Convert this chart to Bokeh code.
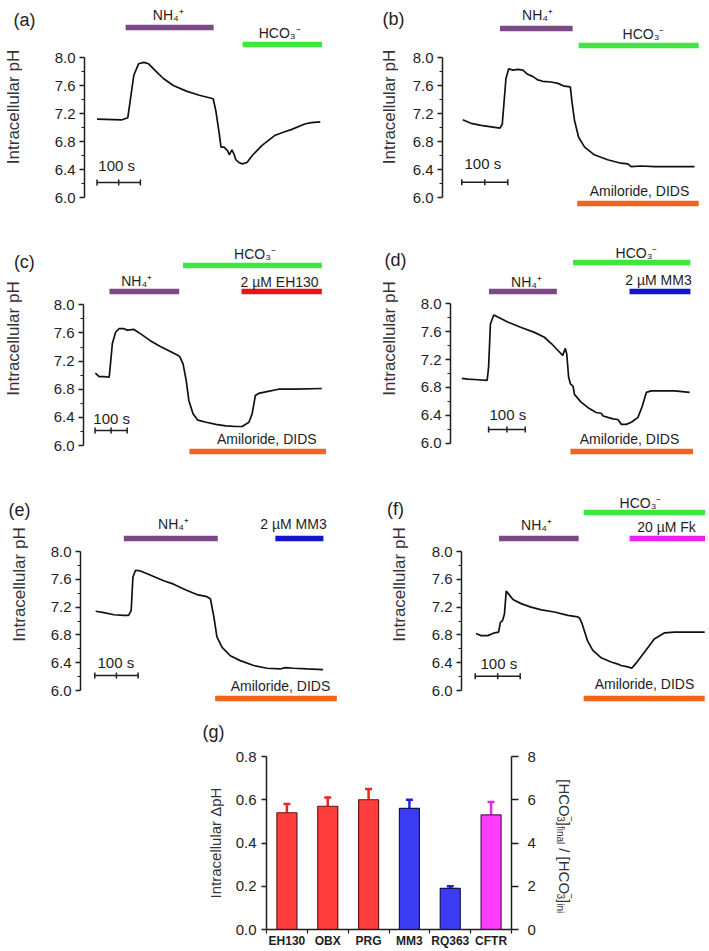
import math
from bokeh.plotting import figure
from bokeh.layouts import column, row
from bokeh.models import Range1d, LinearAxis, FixedTicker, NumeralTickFormatter
from bokeh.embed import file_html
from bokeh.resources import INLINE
from bokeh.core.properties import value

FONT = "Liberation Sans"
INK = "#1e1e1e"

# ---------------- data (time in s, intracellular pH) ----------------
a_time = [0, 58, 71, 85, 96, 108, 119, 138, 153, 176, 206, 236, 268, 274, 282, 286, 293, 301, 305, 311,
          316, 320, 327, 335, 346, 358, 380, 411, 433, 448, 479, 494, 515]
a_ph = [7.12, 7.11, 7.14, 7.75, 7.91, 7.93, 7.91, 7.79, 7.70, 7.60, 7.52, 7.46, 7.41, 7.24, 6.91, 6.72, 6.72,
        6.67, 6.61, 6.68, 6.62, 6.54, 6.50, 6.48, 6.50, 6.60, 6.74, 6.89, 6.94, 6.97, 7.05, 7.07, 7.08]
a_nh4 = [66, 269]
a_hco3 = [336, 519]

b_time = [2, 20, 42, 64, 83, 88, 96, 102, 111, 122, 133, 143, 154, 165, 176, 194, 209, 223, 236, 239,
          245, 254, 267, 288, 317, 346, 361, 368, 390, 419, 441, 462, 506]
b_ph = [7.11, 7.06, 7.03, 7.01, 6.99, 7.05, 7.70, 7.84, 7.82, 7.83, 7.82, 7.76, 7.73, 7.68, 7.66, 7.65, 7.63,
        7.59, 7.58, 7.39, 7.10, 6.86, 6.72, 6.61, 6.54, 6.49, 6.48, 6.44, 6.45, 6.44, 6.44, 6.44, 6.44]
b_nh4 = [83, 241]
b_hco3 = [254, 515]
b_amil = [251, 515]

c_time = [1, 13, 29, 44, 47, 54, 64, 75, 90, 100, 121, 141, 172, 202, 233, 259, 264, 274, 284, 292,
          305, 320, 346, 376, 407, 438, 458, 479, 489, 499, 509, 539, 571, 622, 706]
c_ph = [7.03, 6.98, 6.98, 6.97, 7.11, 7.45, 7.61, 7.66, 7.66, 7.64, 7.65, 7.59, 7.49, 7.41, 7.34, 7.28, 7.26,
        7.16, 6.92, 6.64, 6.45, 6.36, 6.33, 6.30, 6.28, 6.27, 6.27, 6.33, 6.45, 6.71, 6.74, 6.77, 6.80, 6.80, 6.81]
c_hco3 = [274, 706]
c_nh4 = [45, 262]
c_eh130 = [456, 706]
c_amil = [294, 719]

d_time = [0, 16, 44, 69, 73, 78, 87, 98, 125, 162, 198, 225, 244, 262, 275, 282, 286, 291, 296, 303,
          307, 325, 344, 366, 380, 385, 398, 412, 425, 435, 448, 462, 480, 491, 503, 516, 553, 580, 621]
d_ph = [6.93, 6.92, 6.91, 6.90, 7.09, 7.71, 7.84, 7.81, 7.74, 7.66, 7.59, 7.52, 7.43, 7.33, 7.26, 7.36, 7.28,
        6.95, 6.85, 6.82, 6.70, 6.59, 6.51, 6.44, 6.43, 6.39, 6.37, 6.35, 6.34, 6.27, 6.27, 6.30, 6.37, 6.52,
        6.73, 6.75, 6.75, 6.75, 6.73]
d_nh4 = [74, 259]
d_hco3 = [303, 623]
d_mm3 = [457, 623]
d_amil = [296, 630]

e_time = [2, 21, 44, 67, 78, 84, 88, 94, 105, 121, 136, 159, 182, 213, 236, 259, 267, 275, 282, 294,
          313, 336, 367, 398, 428, 440, 459, 490, 527]
e_ph = [7.14, 7.12, 7.09, 7.08, 7.08, 7.15, 7.63, 7.73, 7.72, 7.68, 7.64, 7.58, 7.53, 7.44, 7.38, 7.35, 7.32,
        7.06, 6.77, 6.62, 6.50, 6.43, 6.36, 6.32, 6.31, 6.33, 6.32, 6.31, 6.30]
e_nh4 = [67, 284]
e_mm3 = [417, 528]
e_amil = [278, 559]

f_time = [2, 13, 28, 43, 52, 56, 61, 65, 69, 74, 84, 102, 124, 147, 176, 206, 228, 232, 237, 243,
          250, 261, 280, 302, 317, 324, 339, 348, 357, 376, 398, 421, 443, 473, 510]
f_ph = [6.82, 6.79, 6.79, 6.83, 6.84, 6.98, 7.01, 7.10, 7.43, 7.39, 7.31, 7.25, 7.20, 7.16, 7.13, 7.08, 7.06,
        7.04, 6.97, 6.85, 6.71, 6.58, 6.47, 6.41, 6.38, 6.36, 6.34, 6.32, 6.39, 6.55, 6.74, 6.83, 6.84, 6.84, 6.84]
f_hco3 = [241, 511]
f_nh4 = [53, 230]
f_fk = [343, 511]
f_amil = [241, 510]

g_categories = ["EH130", "OBX", "PRG", "MM3", "RQ363", "CFTR"]
g_delta_ph = [0.54, 0.57, 0.60, 0.56, 0.19, 0.53]
g_sem = [0.04, 0.04, 0.05, 0.04, 0.01, 0.06]

ph_ticks = [6.0, 6.4, 6.8, 7.2, 7.6, 8.0]
ph_minor_ticks = [6.2, 6.6, 7.0, 7.4, 7.8]
g_left_ticks = [0.0, 0.2, 0.4, 0.6, 0.8]
g_right_ticks = [0, 2, 4, 6, 8]
scale_bar_seconds = 100

# ---------------- styles ----------------
C_NH4 = "#7b4a86"
C_HCO3 = "#3ee63e"
C_AMIL = "#f0641e"
C_EH = "#e3141c"
C_MM3 = "#1414c8"
C_FK = "#ee22ee"
G_FILL = ["#ff3d3d", "#ff3d3d", "#ff3d3d", "#3c3cf2", "#3c3cf2", "#ff3cff"]
G_EDGE = ["#6a1414", "#6a1414", "#6a1414", "#14145e", "#14145e", "#5e145e"]
G_ERR = ["#e82626", "#e82626", "#e82626", "#2424d6", "#2424d6", "#e02ee0"]

NH4 = "NH\u2084\u207a"
HCO3 = "HCO\u2083\u207b"
AMIL = "Amiloride, DIDS"


def style_ph_axis(ax, standoff):
    ax.bounds = (6.0, 8.0)
    ax.ticker = FixedTicker(ticks=ph_ticks, minor_ticks=ph_minor_ticks)
    ax.formatter = NumeralTickFormatter(format="0.0")
    ax.axis_label = "Intracellular pH"
    ax.axis_label_text_font = FONT
    ax.axis_label_text_font_size = "17px"
    ax.axis_label_text_font_style = "normal"
    ax.axis_label_text_color = "#333333"
    ax.axis_label_standoff = standoff
    ax.major_label_text_font = FONT
    ax.major_label_text_font_size = "15px"
    ax.major_label_text_color = INK
    ax.major_label_standoff = 4
    ax.major_tick_out = 5
    ax.major_tick_in = 0
    ax.minor_tick_out = 3
    ax.minor_tick_in = 0
    for k in ("axis_line", "major_tick_line", "minor_tick_line"):
        setattr(ax, k + "_color", INK)
    ax.axis_line_width = 1.5
    ax.major_tick_line_width = 1.5
    ax.minor_tick_line_width = 1.2


def free_text(p, x, y, text, size, color=INK, **kw):
    # overlay-level text so it may sit outside the plot frame (beside the axes)
    p.text(x=[x], y=[y], text=[text], text_font=value(FONT), text_font_size=size,
           text_color=color, level="overlay", **kw)


def trace_panel(G, t, ph, bars, scale, letter):
    ppu = (G["y6"] - G["y8"]) / 2.0

    def X(px):
        return (px - G["t0"]) / G["pxps"]

    def Y(py):
        return 8.0 - (py - G["y8"]) / ppu

    right = G["left"] + G["w"]
    bottom = G["top"] + G["h"]
    p = figure(width=G["w"], height=G["h"], output_backend="svg", toolbar_location=None,
               x_range=Range1d(X(G["ax"]), X(right)), y_range=Range1d(Y(bottom), Y(G["top"])),
               min_border_left=G["ax"] - G["left"], min_border_right=0,
               min_border_top=0, min_border_bottom=0)
    p.outline_line_color = None
    p.background_fill_color = "white"
    p.border_fill_color = "white"
    p.grid.visible = False
    p.xaxis.visible = False
    style_ph_axis(p.yaxis[0], G["std"])

    # trace
    p.line(t, ph, line_color="#111111", line_width=1.7)

    # treatment bars and their labels
    for period, color, by, text, tx, ty in bars:
        yb = Y(by)
        p.segment(x0=[period[0]], y0=[yb], x1=[period[1]], y1=[yb], line_color=color,
                  line_width=5.5)
        free_text(p, X(tx), Y(ty), text, "14px", text_align="center", text_baseline="middle")

    # scale bar
    s0, sy, lx, ly = scale
    yb = Y(sy)
    p.segment(x0=[s0], y0=[yb], x1=[s0 + scale_bar_seconds], y1=[yb], line_color=INK,
              line_width=1.5)
    p.scatter(x=[s0, s0 + scale_bar_seconds / 2, s0 + scale_bar_seconds], y=[yb] * 3,
              marker="dash", angle=math.pi / 2, size=6, line_color=INK, line_width=1.5)
    free_text(p, X(lx), Y(ly), "%d s" % scale_bar_seconds, "15px", text_align="left",
              text_baseline="middle")

    lt, lcx, lcy = letter
    free_text(p, X(lcx), Y(lcy), lt, "18px", text_align="center", text_baseline="middle")
    return p


GEOM = {
    "a": dict(left=0, top=0, w=354, h=213, ax=80, t0=92.7, pxps=0.44, y8=57, y6=197, std=29),
    "b": dict(left=354, top=0, w=354, h=213, ax=442, t0=461.3, pxps=0.46, y8=57, y6=197, std=11),
    "c": dict(left=0, top=213, w=354, h=250, ax=79, t0=90.7, pxps=0.326, y8=304.3, y6=445, std=28),
    "d": dict(left=354, top=213, w=354, h=250, ax=450, t0=461.3, pxps=0.367, y8=303.3, y6=442.7, std=19),
    "e": dict(left=0, top=463, w=354, h=242, ax=80, t0=94.3, pxps=0.433, y8=551, y6=690, std=19),
    "f": dict(left=354, top=463, w=354, h=242, ax=461, t0=474.7, pxps=0.45, y8=551, y6=690, std=20),
}

pa = trace_panel(GEOM["a"], a_time, a_ph,
                 [(a_nh4, C_NH4, 27, NH4, 165, 14), (a_hco3, C_HCO3, 44, HCO3, 278, 32)],
                 (0, 182, 94, 165), ("(a)", 19, 19))
pb = trace_panel(GEOM["b"], b_time, b_ph,
                 [(b_nh4, C_NH4, 28, NH4, 537, 14), (b_hco3, C_HCO3, 45, HCO3, 643, 33),
                  (b_amil, C_AMIL, 203, AMIL, 639, 190)],
                 (0, 181.7, 464, 163), ("(b)", 393, 18))
pc = trace_panel(GEOM["c"], c_time, c_ph,
                 [(c_hco3, C_HCO3, 265, HCO3, 253, 253), (c_nh4, C_NH4, 291, NH4, 133, 280),
                  (c_eh130, C_EH, 291, "2 \u00b5M EH130", 278, 281),
                  (c_amil, C_AMIL, 451, AMIL, 265, 438)],
                 (0, 430, 89, 418), ("(c)", 19, 261))
pd_ = trace_panel(GEOM["d"], d_time, d_ph,
                  [(d_hco3, C_HCO3, 262, HCO3, 636, 252), (d_nh4, C_NH4, 291, NH4, 526, 281),
                   (d_mm3, C_MM3, 291, "2 \u00b5M MM3", 658, 279),
                   (d_amil, C_AMIL, 451, AMIL, 629, 438)],
                  (73, 429, 489, 414), ("(d)", 395, 259))
pe = trace_panel(GEOM["e"], e_time, e_ph,
                 [(e_nh4, C_NH4, 538, NH4, 173, 523), (e_mm3, C_MM3, 538, "2 \u00b5M MM3", 293, 523),
                  (e_amil, C_AMIL, 698, AMIL, 280, 685)],
                 (0, 675, 97, 662), ("(e)", 19, 509))
pf = trace_panel(GEOM["f"], f_time, f_ph,
                 [(f_hco3, C_HCO3, 512, HCO3, 640, 502), (f_nh4, C_NH4, 538, NH4, 536, 524),
                  (f_fk, C_FK, 538, "20 \u00b5M Fk", 666, 526), (f_amil, C_AMIL, 698, AMIL, 644, 683)],
                 (0, 675.7, 480, 663), ("(f)", 395, 508))

# ---------------- panel (g) ----------------
GL, GR, GT, GB = 266, 511, 756, 931      # frame edges (page px)
G_TOP, G_LEFT, G_W, G_H = 705, 0, 708, 245
n = len(g_categories)
xs = list(range(1, n + 1))
pg = figure(width=G_W, height=G_H, output_backend="svg", toolbar_location=None,
            x_range=Range1d(0.5, n + 0.5), y_range=Range1d(0, 0.8),
            min_border_left=GL - G_LEFT, min_border_right=G_LEFT + G_W - GR,
            min_border_top=GT - G_TOP, min_border_bottom=G_TOP + G_H - GB)
pg.outline_line_color = None
pg.grid.visible = False
pg.extra_y_ranges = {"ratio": Range1d(0, 8)}


def gx(px):
    return 0.5 + (px - GL) * n / (GR - GL)


def gy(py):
    return (GB - py) * 0.8 / (GB - GT)


tops = [v + e for v, e in zip(g_delta_ph, g_sem)]
pg.segment(x0=xs, y0=g_delta_ph, x1=xs, y1=tops, line_color=G_ERR, line_width=2.5)
pg.scatter(x=xs, y=tops, marker="dash", size=7, line_color=G_ERR, line_width=2.5)
pg.vbar(x=xs, top=g_delta_ph, width=0.49, fill_color=G_FILL, line_color=G_EDGE, line_width=1.2)

ly = pg.yaxis[0]
ly.ticker = FixedTicker(ticks=g_left_ticks)
ly.formatter = NumeralTickFormatter(format="0.0")
ly.axis_label = "Intracellular \u0394pH"
ly.axis_label_standoff = 9
ly.axis_label_text_font_size = "15px"
ly.axis_label_text_color = "#333333"
ry = LinearAxis(y_range_name="ratio", ticker=FixedTicker(ticks=g_right_ticks))
pg.add_layout(ry, "right")
for ax in (ly, ry):
    ax.axis_label_text_font = FONT
    ax.axis_label_text_font_style = "normal"
    ax.major_label_text_font = FONT
    ax.major_label_text_font_size = "15px"
    ax.major_label_text_color = INK
    ax.major_tick_in = 0
    ax.minor_tick_out = 0
    ax.minor_tick_in = 0
    ax.axis_line_color = INK
    ax.major_tick_line_color = INK
    ax.axis_line_width = 1.5
    ax.major_tick_line_width = 1.5
ly.major_tick_out = 5
ly.major_label_standoff = 5
ry.major_tick_out = 7
ry.major_label_standoff = 9

xa = pg.xaxis[0]
xa.ticker = FixedTicker(ticks=xs, minor_ticks=[x - 0.5 for x in xs] + [n + 0.5])
xa.major_label_overrides = {x: c for x, c in zip(xs, g_categories)}
xa.major_label_text_font = FONT
xa.major_label_text_font_size = "12px"
xa.major_label_text_font_style = "bold"
xa.major_label_text_color = INK
xa.major_label_standoff = 0
xa.major_tick_out = 0
xa.major_tick_in = 0
xa.minor_tick_out = 4
xa.minor_tick_in = 0
xa.axis_line_color = INK
xa.minor_tick_line_color = INK
xa.axis_line_width = 1.5
xa.minor_tick_line_width = 1.2

free_text(pg, gx(213), gy(731), "(g)", "18px", text_align="center", text_baseline="middle")

# right-hand label: [HCO3-]final / [HCO3-]ini, rotated, reading downwards
pieces = [("[HCO", 15, 0, 37.5), ("3", 10, -4, 0), ("\u2212", 10, 7, 5.6), ("]", 15, 0, 4.2),
          ("final", 10, -4, 18.3 + 4.2), ("/ [HCO", 15, 0, 45.8), ("3", 10, -4, 0),
          ("\u2212", 10, 7, 5.6), ("]", 15, 0, 4.2), ("ini", 10, -4, 10)]
base_x = 564
cur = 779
for txt, fs, dx, adv in pieces:
    free_text(pg, gx(base_x + dx), gy(cur), txt, "%dpx" % fs, color="#333333",
              angle=-math.pi / 2, text_align="left", text_baseline="alphabetic")
    cur += adv

layout = column(row(pa, pb), row(pc, pd_), row(pe, pf), pg)
open("out.html", "w").write(file_html(layout, INLINE))
